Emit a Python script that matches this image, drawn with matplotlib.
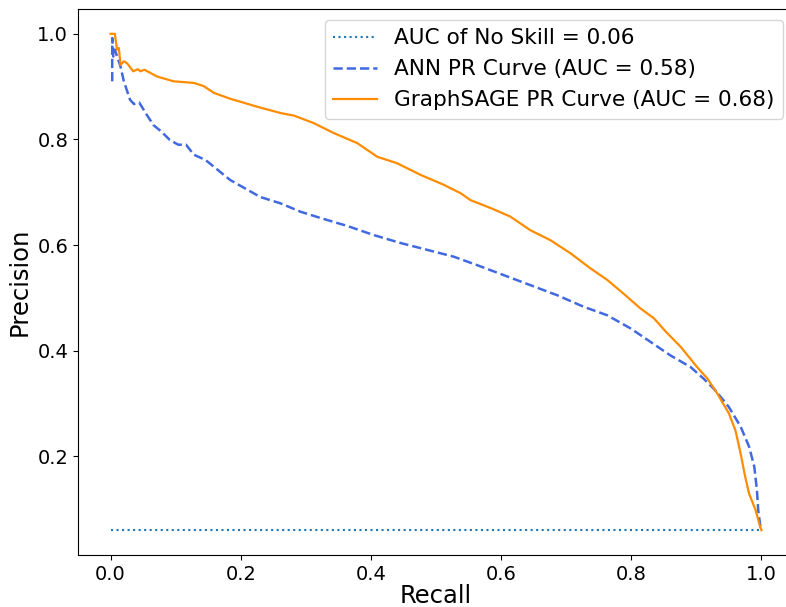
import numpy as np
import matplotlib
matplotlib.use('Agg')
from matplotlib import pyplot as plt

# no skill baseline (positive class ratio)
no_skill = 0.06

# ANN precision-recall curve
ann_recall = [0.0026, 0.0026, 0.0043, 0.0066, 0.0154, 0.0205, 0.030, 0.036, 0.044, 0.056,
              0.066, 0.078, 0.091, 0.104, 0.116, 0.128, 0.146, 0.184, 0.230, 0.261,
              0.292, 0.323, 0.364, 0.404, 0.445, 0.486, 0.527, 0.563, 0.604, 0.645,
              0.686, 0.727, 0.763, 0.799, 0.829, 0.860, 0.891, 0.911, 0.929, 0.950,
              0.968, 0.981, 0.989, 0.993, 0.995, 0.998, 1.0]
ann_precision = [0.910, 0.992, 0.957, 0.970, 0.938, 0.910, 0.875, 0.867, 0.870, 0.846,
                 0.827, 0.815, 0.799, 0.790, 0.790, 0.771, 0.761, 0.723, 0.691, 0.679,
                 0.663, 0.651, 0.636, 0.619, 0.604, 0.591, 0.578, 0.562, 0.543, 0.524,
                 0.505, 0.483, 0.467, 0.442, 0.417, 0.391, 0.369, 0.347, 0.325, 0.293,
                 0.256, 0.218, 0.180, 0.136, 0.098, 0.070, 0.060]

# GraphSAGE precision-recall curve
sage_recall = [0.0, 0.0066, 0.0100, 0.0128, 0.0154, 0.0205, 0.0256, 0.0348, 0.042, 0.046,
               0.052, 0.0717, 0.097, 0.128, 0.143, 0.159, 0.184, 0.225, 0.261, 0.282,
               0.312, 0.343, 0.379, 0.410, 0.440, 0.476, 0.512, 0.538, 0.553, 0.584,
               0.614, 0.645, 0.676, 0.707, 0.737, 0.763, 0.788, 0.814, 0.835, 0.853,
               0.876, 0.901, 0.917, 0.932, 0.950, 0.960, 0.968, 0.975, 0.981, 0.991,
               0.998, 1.0]
sage_precision = [1.0, 1.0, 0.970, 0.973, 0.941, 0.948, 0.944, 0.929, 0.933, 0.929,
                  0.932, 0.919, 0.910, 0.907, 0.901, 0.888, 0.877, 0.862, 0.850, 0.845,
                  0.831, 0.812, 0.793, 0.767, 0.755, 0.733, 0.714, 0.698, 0.685, 0.670,
                  0.654, 0.628, 0.609, 0.584, 0.556, 0.534, 0.508, 0.480, 0.461, 0.436,
                  0.407, 0.369, 0.347, 0.319, 0.281, 0.249, 0.205, 0.161, 0.129, 0.098,
                  0.066, 0.060]

fig = plt.figure(figsize=(7.86, 6.07), dpi=100)
# right edge of the axes runs past the figure like in the cropped original
ax = fig.add_axes([0.0992, 0.0857, 0.911, 0.8995])

ax.plot([0, 1], [no_skill, no_skill], linestyle=':', lw=1.5, color='#1f77b4',
        label='AUC of No Skill = 0.06')
ax.plot(ann_recall, ann_precision, linestyle='--', lw=1.8, color='royalblue',
        label='ANN PR Curve (AUC = 0.58)')
ax.plot(sage_recall, sage_precision, linestyle='-', lw=1.6, color='darkorange',
        label='GraphSAGE PR Curve (AUC = 0.68)')

ax.set_xlim(-0.05, 1.05)
ax.spines['right'].set_visible(False)
ax.set_xlabel('Recall', fontsize=17.5, labelpad=0)
ax.set_ylabel('Precision', fontsize=17.5)
ax.tick_params(labelsize=14)
ax.legend(loc='upper right', fontsize=15.6)

fig.savefig('out.png', dpi=100)
